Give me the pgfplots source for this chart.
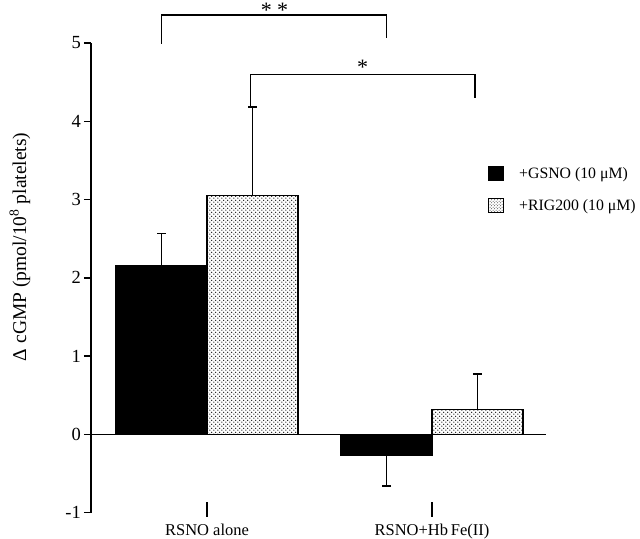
\documentclass[border=0pt]{standalone}
\usepackage{fontspec}
\setmainfont{Liberation Serif}
\usepackage{pgfplots}
\pgfplotsset{compat=1.18}
\usetikzlibrary{patterns,patterns.meta}
\tikzdeclarepattern{
  name=mydots,
  type=uncolored,
  bottom left={(0bp,0bp)},
  top right={(4.2bp,4.2bp)},
  tile size={(4.2bp,4.2bp)},
  code={\fill (1.05bp,1.05bp) circle (0.85bp); \fill (3.15bp,3.15bp) circle (0.85bp);}
}
\begin{document}
\begin{tikzpicture}
\useasboundingbox (0,0) rectangle (640bp,539bp);
\begin{axis}[
  at={(91bp,26.3bp)}, anchor=south west,
  scale only axis, width=455bp, height=469.7bp,
  xmin=-0.5156, xmax=1.5067, ymin=-1, ymax=5,
  clip=false,
  axis x line*=bottom, axis y line*=left,
  x axis line style={draw=none},
  y axis line style={line width=1.6bp},
  ytick={-1,0,1,2,3,4,5}, yticklabels={-1,0,1,2,3,4,5},
  ytick style={line width=1.4bp, black},
  tick align=outside, major tick length=7bp,
  xtick={0,1}, xticklabels={RSNO alone, RSNO+Hb\,Fe(II)},
  xtick style={draw=none},
  yticklabel style={font=\fontsize{18.5bp}{20bp}\selectfont, inner sep=0pt, xshift=-3bp},
  xticklabel style={font=\fontsize{16.5bp}{19bp}\selectfont, inner sep=0pt, yshift=-4bp},
  ylabel={Δ cGMP (pmol/10\textsuperscript{8} platelets)},
  ylabel style={font=\fontsize{19.5bp}{22bp}\selectfont, at={(axis description cs:-0.156,0.566)}, anchor=center},
  legend style={at={(axis description cs:0.8725,0.738)}, anchor=north west, draw=none, fill=none,
    font=\fontsize{15.8bp}{19bp}\selectfont, row sep=17bp, inner sep=0pt,
    nodes={inner sep=0pt},
    /tikz/every odd column/.append style={column sep=15bp}},
  legend cell align=left,
  error bars/y dir=both, error bars/y explicit,
  error bars/error bar style={line width=1.4bp, draw=black},
  error bars/error mark options={rotate=90, mark size=4.5bp, line width=1.4bp, draw=black},
]
\addplot[ybar, bar shift=0pt, bar width=0.4044, fill=black, draw=black, line width=1.3bp,
  legend image code/.code={\draw[fill=black, draw=black, line width=1bp] (0bp,-7bp) rectangle (15bp,7bp);}]
  coordinates {(-0.2022,2.15) += (0,0.42) -= (0,0) (0.7978,-0.27) += (0,0) -= (0,0.39)};
\addplot[ybar, bar shift=0pt, bar width=0.4044, pattern={mydots}, pattern color=black!90, draw=black, line width=1.3bp,
  legend image code/.code={\draw[pattern=crosshatch dots, pattern color=black!80, draw=black, line width=1bp] (0bp,-7bp) rectangle (15bp,7bp);}]
  coordinates {(0.2022,3.05) += (0,1.13) -= (0,0) (1.2022,0.32) += (0,0.45) -= (0,0)};
\legend{+GSNO (10 μM), +RIG200 (10 μM)}
% zero line
\draw[line width=1.3bp] (axis cs:-0.5156,0) -- (axis cs:1.5067,0);
% category tick marks
\draw[line width=1.3bp] (axis cs:0,-0.864) -- (axis cs:0,-1.055);
\draw[line width=1.3bp] (axis cs:1,-0.864) -- (axis cs:1,-1.055);
% significance brackets
\draw[line width=1.3bp] (axis cs:-0.2022,4.99) -- (axis cs:-0.2022,5.358) -- (axis cs:0.7978,5.358) -- (axis cs:0.7978,5.06);
\node[anchor=base, inner sep=0pt, font=\fontsize{22bp}{24bp}\selectfont] at (axis cs:0.3,5.33) {* *};
\draw[line width=1.3bp] (axis cs:0.192,4.17) -- (axis cs:0.192,4.60) -- (axis cs:1.191,4.60) -- (axis cs:1.191,4.30);
\node[anchor=base, inner sep=0pt, font=\fontsize{22bp}{24bp}\selectfont] at (axis cs:0.6915,4.60) {*};
\end{axis}
\end{tikzpicture}
\end{document}
